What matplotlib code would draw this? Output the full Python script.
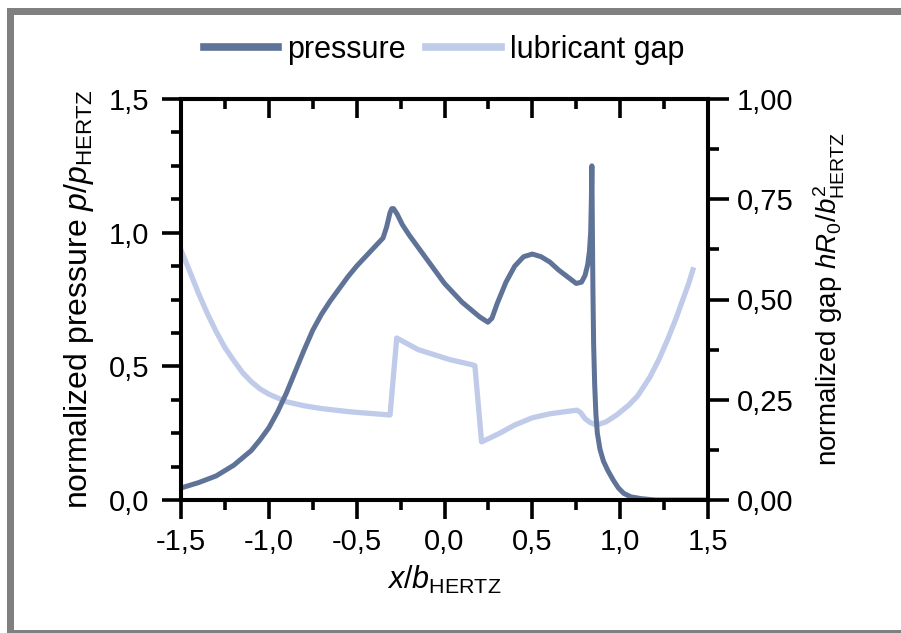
import matplotlib
matplotlib.use("Agg")
import matplotlib.pyplot as plt
from matplotlib.patches import Rectangle
from matplotlib.ticker import MultipleLocator, FuncFormatter

plt.rcParams['font.family'] = ['Liberation Sans', 'DejaVu Sans']
plt.rcParams['mathtext.fontset'] = 'custom'
plt.rcParams['mathtext.rm'] = 'Liberation Sans'
plt.rcParams['mathtext.it'] = 'Liberation Sans:italic'

# pressure (left axis)
x_pressure = [-1.5, -1.4, -1.3, -1.2, -1.1, -1.05, -1.0, -0.95, -0.9, -0.85,
              -0.8, -0.75, -0.7, -0.65, -0.6, -0.55, -0.5, -0.45, -0.4, -0.35,
              -0.33, -0.31, -0.30, -0.29, -0.27, -0.24, -0.2, -0.1, 0.0, 0.1,
              0.2, 0.247, 0.27, 0.3, 0.35, 0.4, 0.45, 0.5, 0.55, 0.6,
              0.65, 0.7, 0.75, 0.78, 0.8, 0.815, 0.825, 0.832, 0.836, 0.839,
              0.842, 0.845, 0.849, 0.855, 0.862, 0.87, 0.885, 0.905, 0.93, 0.96,
              0.99, 1.02, 1.06, 1.12, 1.2, 1.5]
pressure = [0.045, 0.065, 0.09, 0.13, 0.185, 0.225, 0.27, 0.33, 0.40, 0.48,
            0.56, 0.635, 0.695, 0.745, 0.79, 0.835, 0.875, 0.91, 0.945, 0.98,
            1.02, 1.075, 1.09, 1.09, 1.07, 1.03, 0.99, 0.90, 0.81, 0.74,
            0.685, 0.665, 0.68, 0.735, 0.815, 0.875, 0.91, 0.92, 0.91, 0.89,
            0.86, 0.835, 0.81, 0.815, 0.84, 0.88, 0.93, 1.0, 1.12, 1.25,
            1.0, 0.78, 0.58, 0.43, 0.32, 0.25, 0.19, 0.145, 0.11, 0.075,
            0.045, 0.025, 0.012, 0.005, 0.0, 0.0]

# lubricant gap (right axis)
x_gap = [-1.5, -1.45, -1.4, -1.35, -1.3, -1.25, -1.2, -1.15, -1.1, -1.05,
         -1.0, -0.9, -0.8, -0.7, -0.54, -0.31, -0.272, -0.15, 0.031, 0.16,
         0.173, 0.211, 0.26, 0.316, 0.40, 0.50, 0.60, 0.70, 0.754, 0.775,
         0.80, 0.83, 0.866, 0.92, 0.98, 1.05, 1.1, 1.17, 1.22, 1.27,
         1.32, 1.357, 1.39, 1.414]
gap = [0.623, 0.57, 0.515, 0.465, 0.42, 0.38, 0.348, 0.318, 0.295, 0.277,
       0.264, 0.245, 0.235, 0.228, 0.22, 0.212, 0.404, 0.375, 0.35, 0.337,
       0.335, 0.145, 0.155, 0.167, 0.187, 0.205, 0.215, 0.221, 0.224, 0.218,
       0.203, 0.193, 0.187, 0.195, 0.212, 0.237, 0.26, 0.307, 0.35, 0.40,
       0.455, 0.50, 0.54, 0.574]

c_p = '#5f7398'
c_g = '#bfcbe9'

W, H = 901, 633
fig = plt.figure(figsize=(W / 100, H / 100), dpi=100)
ax = fig.add_axes([181 / W, 1 - 500 / H, (708 - 181) / W, (500 - 99) / H])
ax2 = ax.twinx()

# gray frame around picture
for (x0, y0, w, h) in [(7, 8, W - 7, 7), (7, 8, 7, H - 8), (7, 630, W - 7, 3)]:
    fig.add_artist(Rectangle((x0 / W, 1 - (y0 + h) / H), w / W, h / H,
                             transform=fig.transFigure, color='#808080', lw=0))

lp, = ax.plot(x_pressure, pressure, color=c_p, lw=3.6, solid_joinstyle='round',
              label='pressure')
lg, = ax2.plot(x_gap, gap, color=c_g, lw=3.8, solid_joinstyle='round',
               label='lubricant gap')
ax.set_zorder(ax2.get_zorder() + 1)
ax.patch.set_visible(False)

ax.set_xlim(-1.5, 1.5)
ax.set_ylim(0, 1.5)
ax2.set_ylim(0, 1.0)

comma1 = FuncFormatter(lambda v, pos: f"{v:.1f}".replace('.', ','))
comma2 = FuncFormatter(lambda v, pos: f"{v:.2f}".replace('.', ','))

ax.xaxis.set_major_locator(MultipleLocator(0.5))
ax.xaxis.set_minor_locator(MultipleLocator(0.25))
ax.yaxis.set_major_locator(MultipleLocator(0.5))
ax.yaxis.set_minor_locator(MultipleLocator(0.125))
ax2.yaxis.set_major_locator(MultipleLocator(0.25))
ax2.yaxis.set_minor_locator(MultipleLocator(0.125))
ax.xaxis.set_major_formatter(comma1)
ax.yaxis.set_major_formatter(comma1)
ax2.yaxis.set_major_formatter(comma2)

for a in (ax, ax2):
    for s in a.spines.values():
        s.set_linewidth(2.9)

ax.tick_params(axis='both', which='major', direction='out', length=14, width=2.6,
               labelsize=21)
ax.tick_params(axis='both', which='minor', direction='out', length=7.5, width=2.6)
ax.tick_params(axis='y', which='major', pad=9)
ax.tick_params(axis='x', which='major', pad=6)
ax2.tick_params(axis='y', which='major', direction='out', length=15, width=2.6,
                labelsize=21, pad=6)
ax2.tick_params(axis='y', which='minor', direction='out', length=8, width=2.6)

top = ax.secondary_xaxis('top')
top.xaxis.set_major_locator(MultipleLocator(0.5))
top.xaxis.set_minor_locator(MultipleLocator(0.25))
top.tick_params(which='major', direction='in', length=14, width=2.6, labeltop=False)
top.tick_params(which='minor', direction='in', length=7.5, width=2.6)
top.spines['top'].set_linewidth(2.9)

ax.set_xlabel(r'$x/b_{\mathrm{HERTZ}}$', fontsize=22, labelpad=6)
ax.set_ylabel(r'normalized pressure $p/p_{\mathrm{HERTZ}}$', fontsize=23, labelpad=9)
ax2.set_ylabel(r'normalized gap $hR_0/b^2_{\mathrm{HERTZ}}$', fontsize=20,
               labelpad=13, rotation=90)

fig.legend(handles=[lp, lg], loc='center', bbox_to_anchor=(444 / W, 1 - 50 / H),
           ncol=2, frameon=False, fontsize=22, handlelength=2.45,
           handletextpad=0.3, columnspacing=0.65, borderaxespad=0)
for h in fig.legends[0].legend_handles:
    h.set_linewidth(5.5)

fig.savefig('out.png', dpi=100)
